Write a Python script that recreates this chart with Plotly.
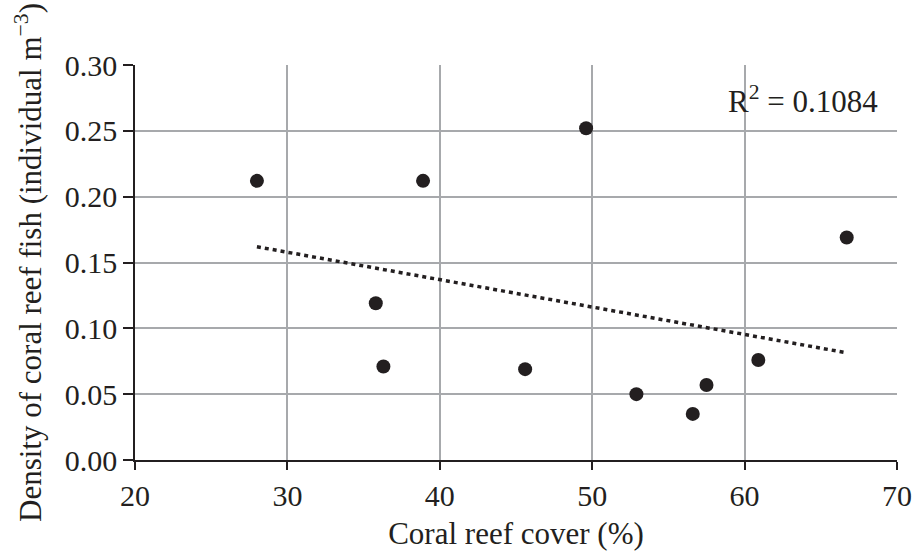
import numpy as np
import plotly.graph_objects as go

# Data
coral_cover = [28.0, 35.8, 36.3, 38.9, 45.6, 49.6, 52.9, 56.6, 57.5, 60.9, 66.7]
fish_density = [0.212, 0.119, 0.071, 0.212, 0.069, 0.252, 0.050, 0.035, 0.057, 0.076, 0.169]
x_ticks = [20, 30, 40, 50, 60, 70]
y_ticks = [0.00, 0.05, 0.10, 0.15, 0.20, 0.25, 0.30]
r2_label = "R<sup>2</sup> = 0.1084"

INK = "#231f20"
GRID = "#a7a9ac"
FONT = "Liberation Serif"

# Linear trendline (least-squares fit of the data)
slope, intercept = np.polyfit(coral_cover, fish_density, 1)
x_fit = [min(coral_cover), max(coral_cover)]
y_fit = [slope * v + intercept for v in x_fit]

fig = go.Figure()
fig.add_trace(go.Scatter(
    x=x_fit, y=y_fit, mode="lines",
    line=dict(color=INK, width=3.5, dash="4px,4px"),
    hoverinfo="skip", showlegend=False,
))
fig.add_trace(go.Scatter(
    x=coral_cover, y=fish_density, mode="markers",
    marker=dict(color=INK, size=14),
    showlegend=False,
))

fig.add_annotation(
    x=1, y=0.913, xref="paper", yref="paper",
    xanchor="right", yanchor="middle", xshift=-17,
    text=r2_label, showarrow=False,
    font=dict(family=FONT, size=31, color=INK),
)

fig.update_layout(
    width=915, height=557,
    margin=dict(l=135, r=18, t=65, b=97),
    paper_bgcolor="white", plot_bgcolor="white",
    font=dict(family=FONT, size=30, color=INK),
)
fig.update_xaxes(
    range=[20, 70], tickvals=x_ticks, ticktext=[str(v) for v in x_ticks],
    automargin=False,
    showgrid=True, gridcolor=GRID, gridwidth=1.5,
    showline=True, linecolor=INK, linewidth=1.5,
    ticks="outside", ticklen=8, tickwidth=1.5, tickcolor=INK,
    zeroline=False,
    title=dict(text="Coral reef cover (%)", standoff=12,
               font=dict(family=FONT, size=31, color=INK)),
    tickfont=dict(family=FONT, size=30, color=INK),
)
fig.update_yaxes(
    range=[0, 0.30], tickvals=y_ticks, ticktext=[f"{v:.2f}" for v in y_ticks],
    automargin=False,
    showgrid=True, gridcolor=GRID, gridwidth=1.5,
    showline=True, linecolor=INK, linewidth=1.5,
    ticks="outside", ticklen=10, tickwidth=1.5, tickcolor=INK,
    zeroline=False,
    title=dict(text="Density of coral reef fish (individual m<sup>\u22123</sup>)", standoff=14,
               font=dict(family=FONT, size=31, color=INK)),
    tickfont=dict(family=FONT, size=30, color=INK),
)

fig.write_html("out.html")
